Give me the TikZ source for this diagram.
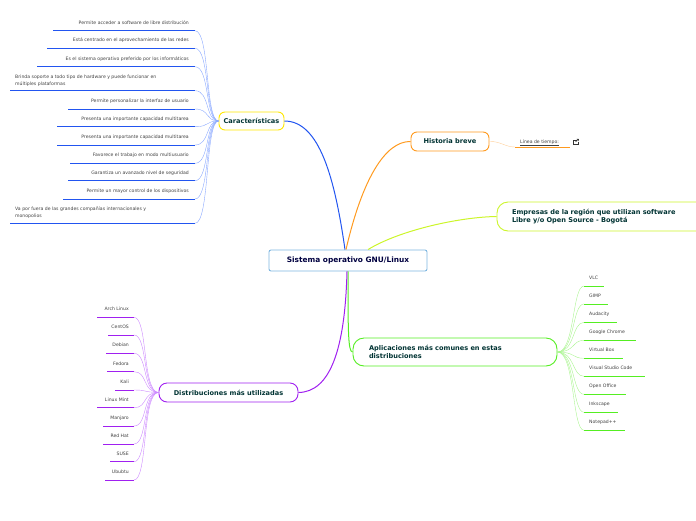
\documentclass[tikz,border=0pt]{standalone}
\usepackage{fontspec}
\setmainfont{DejaVu Sans}
\begin{document}
\begin{tikzpicture}[x=1pt,y=-1pt,
  hub/.style={draw=#1,line width=0.9pt,rounded corners=6pt,fill=white,font=\fontsize{6.6}{7.5}\selectfont\bfseries,text=teal!40!black,inner sep=0pt},
  leaf/.style={font=\fontsize{4.6}{5.6}\selectfont,text=black!75,inner sep=0pt},
  ul/.style={draw=#1,line width=1pt},
  br/.style={draw=#1,line width=0.4pt}]
\definecolor{cb}{HTML}{2255F0}\definecolor{cbl}{HTML}{8AA8FF}
\definecolor{co}{HTML}{FF9A1F}\definecolor{col}{HTML}{FFD09A}
\definecolor{cy}{HTML}{CCF52A}
\definecolor{cg}{HTML}{55EE22}\definecolor{cgl}{HTML}{AAF590}
\definecolor{cp}{HTML}{A020F0}\definecolor{cpl}{HTML}{CC88FF}
\definecolor{cc}{HTML}{7EB6E0}
\useasboundingbox (0,0) rectangle (696,520);
% center
\node[draw=cc,line width=0.9pt,rounded corners=2pt,minimum width=158pt,minimum height=21pt,font=\fontsize{7.4}{8.5}\selectfont\bfseries,text=blue!25!black,fill=white] (c) at (348,260.5) {Sistema operativo GNU/Linux};
% hubs
\node[hub=yellow!90!orange,minimum width=65pt,minimum height=18pt] (car) at (251.5,121) {Características};
\node[hub=co,minimum width=78pt,minimum height=19pt] (his) at (450,141.5) {Historia breve};
\node[hub=cy,minimum width=210pt,minimum height=29pt,align=left,text width=180pt,rounded corners=11pt] (emp) at (602,216.5) {Empresas de la región que utilizan software\\Libre y/o Open Source - Bogotá};
\node[hub=cg,minimum width=204pt,minimum height=28pt,align=left,text width=172pt,rounded corners=11pt] (apl) at (455,352) {Aplicaciones más comunes en estas\\distribuciones};
\node[hub=cp,minimum width=139pt,minimum height=19pt,rounded corners=8pt] (dis) at (228.5,392.5) {Distribuciones más utilizadas};
% main connectors
\draw[cb,line width=1pt] (c.north) ++(-3,0) coordinate (c1) (c1) .. controls (335,180) and (320,121) .. (car.east);
\draw[co,line width=1pt] (c.north) ++(-2,0) coordinate (c2) (c2) .. controls (362,180) and (385,141) .. (his.west);
\draw[cy,line width=1pt] (c.north) ++(20,0) coordinate (c3) (c3) .. controls (400,230) and (460,217) .. (emp.west);
\draw[cg,line width=1pt] (c.south) ++(0,0) coordinate (c4) (c4) .. controls (348,330) and (348,352) .. (apl.west);
\draw[cp,line width=1pt] (c.south) ++(-1,0) coordinate (c5) (c5) .. controls (345,350) and (330,392) .. (dis.east);
% Caracteristicas leaves
\foreach \y/\l/\t [count=\i] in {30.7/53/Permite acceder a software de libre distribución,48.3/47/Está centrado en el aprovechamiento de las redes,66.7/37/Es el sistema operativo preferido por los informáticos,109/68/Permite personalizar la interfaz de usuario,126.7/57/Presenta una importante capacidad multitarea,145/57/Presenta una importante capacidad multitarea,163.3/70/Favorece el trabajo en modo multiusuario,180.7/68/Garantiza un avanzado nivel de seguridad,199/63/Permite un mayor control de los dispositivos}{
  \coordinate (ca\i) at (195,\y);
  \draw[ul=cb] (\l,\y) -- (ca\i);
  \node[leaf,anchor=base east] (ct\i) at (189,\y-6.5) {\t};
  \draw[br=cbl] (ca\i) .. controls (210,\y) and (205,121) .. (car.west);
}
\foreach \y/\a/\b [count=\i] in {90.7/Brinda soporte a todo tipo de hardware y puede funcionar en/múltiples plataformas,223.3/Va por fuera de las grandes compañías internacionales y/monopolios}{
  \coordinate (cx\i) at (195,\y);
  \draw[ul=cb] (10,\y) -- (cx\i);
  \node[leaf,anchor=base west] (cxt\i) at (15,\y-12.5) {\a};
  \node[leaf,anchor=base west] (cxb\i) at (15,\y-5.5) {\b};
  \draw[br=cbl] (cx\i) .. controls (210,\y) and (205,121) .. (car.west);
}
% Historia leaf
\coordinate (h1) at (570,147);
\draw[ul=co] (515,147) -- (h1);
\node[leaf,anchor=base west] (ht) at (520,143) {\underline{Línea de tiempo:}};
\draw[br=col] (his.east) .. controls (500,141) and (505,147) .. (515,147);
\node[draw=black!80,line width=0.5pt,minimum size=4.5pt,inner sep=0pt] (ico) at (575.5,142) {};
\draw[white,line width=1.5pt] (ico.north east) ++(-0.2,0.2) -- ++(-2.4,0) (ico.north east) ++(-0.2,0.2) -- ++(0,2.4);
\draw[black!80,line width=0.5pt] (ico.center) -- ++(3,-3) coordinate (ie) (ie) -- ++(-2,0) (ie) -- ++(0,2);
% Aplicaciones leaves
\foreach \y/\r/\t [count=\i] in {286/604/VLC,304/608/GIMP,322.3/617/Audacity,340.3/636/Google Chrome,358.3/623/Virtual Box,376.3/645/Visual Studio Code,394.3/626/Open Office,412.3/618/Inkscape,430.3/625/Notepad++}{
  \coordinate (al\i) at (584,\y);
  \draw[ul=cg] (al\i) -- (\r,\y);
  \node[leaf,anchor=base west] (at\i) at (589,\y-6.5) {\t};
  \draw[br=cgl] (apl.east) .. controls (575,352) and (572,\y) .. (al\i);
}
% Distribuciones leaves
\foreach \y/\l/\t [count=\i] in {317.3/97/Arch Linux,335/108/CentOS,353.3/106/Debian,371.7/107/Fedora,390/115/Kali,407.7/97/Linux Mint,426/103/Manjaro,444/103/Red Hat,461.7/110/SUSE,480/105/Ububtu}{
  \coordinate (dl\i) at (134,\y);
  \draw[ul=cp] (\l,\y) -- (dl\i);
  \node[leaf,anchor=base east] (dt\i) at (129,\y-6.5) {\t};
  \draw[br=cpl] (dl\i) .. controls (148,\y) and (142,392) .. (dis.west);
}
\end{tikzpicture}
\end{document}
